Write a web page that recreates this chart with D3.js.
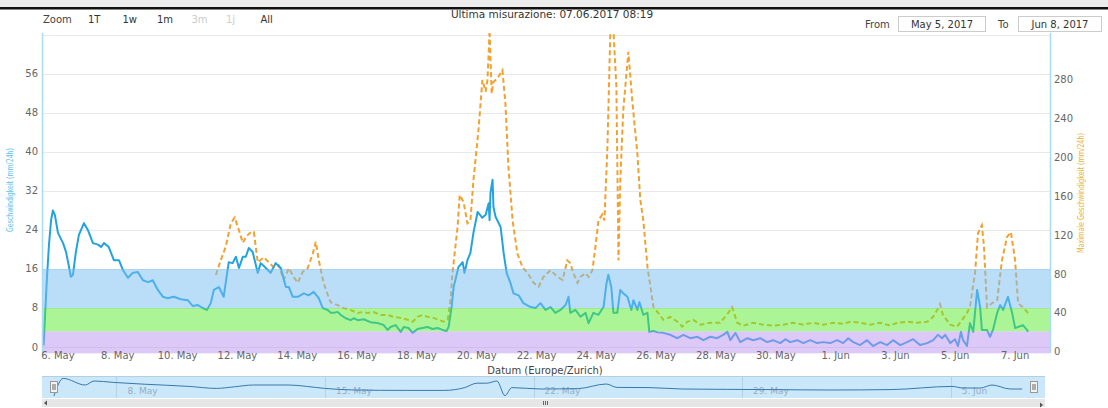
<!DOCTYPE html>
<html>
<head>
<meta charset="utf-8">
<script src="https://cdn.jsdelivr.net/npm/d3@7"></script>
<style>
body { margin: 0; background: #fff; }
svg text { font-family: "DejaVu Sans", Verdana, sans-serif; }
</style>
</head>
<body>
<div id="chart"></div>
<script>
// --- data (days counted from 6 May 2017 00:00) ---
var speedDay = [
 -0.48,-0.37,-0.30,-0.23,-0.17,-0.10,0.00,0.17,0.27,0.37,
 0.43,0.50,0.60,0.70,0.87,1.00,1.17,1.34,1.44,1.54,
 1.70,1.87,2.04,2.17,2.34,2.50,2.67,2.84,3.01,3.17,
 3.34,3.51,3.67,3.87,4.11,4.34,4.51,4.68,4.84,4.98,
 5.11,5.21,5.38,5.54,5.71,5.84,5.95,6.05,6.18,6.28,
 6.38,6.51,6.68,6.78,6.95,7.11,7.28,7.45,7.62,7.72,
 7.85,8.02,8.22,8.38,8.55,8.72,8.85,9.02,9.12,9.22,
 9.35,9.45,9.62,9.79,9.89,10.02,10.22,10.45,10.69,10.89,
 11.02,11.12,11.29,11.46,11.56,11.72,11.86,12.02,12.19,12.36,
 12.52,12.69,12.86,12.99,13.06,13.16,13.23,13.39,13.53,13.59,
 13.69,13.79,13.89,14.03,14.19,14.30,14.40,14.43,14.46,14.53,
 14.56,14.63,14.80,14.90,15.00,15.13,15.23,15.40,15.56,15.80,
 15.97,16.13,16.30,16.47,16.63,16.80,16.97,17.07,17.13,17.30,
 17.47,17.64,17.74,17.90,18.07,18.24,18.34,18.40,18.50,18.57,
 18.70,18.80,18.90,19.04,19.17,19.24,19.37,19.44,19.57,19.71,
 19.77,19.91,20.04,20.24,20.47,20.71,20.91,21.14,21.38,21.58,
 21.81,22.04,22.24,22.38,22.48,22.65,22.81,23.05,23.25,23.48,
 23.71,23.91,24.15,24.32,24.48,24.72,24.92,25.15,25.38,25.58,
 25.82,26.05,26.25,26.42,26.59,26.82,27.05,27.25,27.49,27.72,
 27.92,28.16,28.39,28.59,28.82,29.06,29.26,29.42,29.56,29.66,
 29.83,29.99,30.09,30.19,30.26,30.39,30.49,30.60,30.73,30.83,
 30.89,31.06,31.16,31.26,31.40,31.50,31.60,31.76,31.90,32.00,
 32.10,32.26,32.40,32.43];
var speedValue = [
 0.3,14,21,26,28,27,23.4,21.3,19.5,16.4,
 14.4,14.8,19.5,23,25.4,24,21.3,21,20.5,21.3,
 20.5,17.8,17.8,15.8,14.2,15.2,15.4,13.7,13.3,13.7,
 11.7,10.3,10,10.3,9.8,9.6,8.4,8.6,8,7.6,
 9,11.7,12.3,10.3,17.4,17.2,18.5,16.2,18.5,18.5,
 20.3,19.5,15.2,17.2,16.2,15.2,17.2,16.2,12.3,12.3,
 10.3,10.3,11,10.6,11.3,10,8,7.6,7,7,
 7.2,6.6,5.9,5.5,5.9,5.5,5.7,5.1,4.9,4.5,
 3.5,4.1,4.5,3.1,4.1,3.9,2.9,3.7,3.9,4.1,
 3.7,3.9,3.5,3.3,4.1,8.2,12.3,16.4,17.4,15.2,
 17.8,19.3,23.4,27.7,26.5,27.1,29.5,26,31.6,34.3,
 28.7,26.7,24.6,19.3,15.2,13.1,11,10.6,9,8.2,
 8,9,7.6,8.2,7,7.6,8.6,10.3,7,7.6,
 6.2,7,4.9,7,6.6,8.2,13.1,14.8,12.3,7,
 7,11.7,11,10.3,7.6,9.6,7.6,9.2,6.6,7,
 3.1,3.3,3.0,2.9,2.5,1.8,2.5,1.8,2.1,1.4,
 2.1,1.8,2.5,3.1,1.4,2.9,1.0,1.8,1.4,1.8,
 1.0,1.4,0.8,1.6,1.0,1.4,0.8,1.4,0.8,1.0,
 0.8,1.4,0.8,1.8,1.0,0.4,1.4,0.2,1.0,0.4,
 1.4,0.4,1.0,1.6,0.4,0.8,1.4,2.5,1.8,2.5,
 0.8,1.6,0.2,3.1,1.4,0.2,4.9,3.1,11.7,8.2,
 3.5,3.5,2.1,3.5,7.0,8.6,7.6,10.3,7.0,3.9,
 4.1,4.5,3.5,3.1];

var maxDay = [
 5.28,5.44,5.61,5.78,5.91,6.05,6.18,6.28,6.45,6.55,
 6.68,6.88,7.05,7.21,7.38,7.55,7.72,7.88,8.02,8.18,
 8.35,8.52,8.62,8.72,8.88,9.05,9.12,9.35,9.55,9.79,
 10.02,10.19,10.35,10.55,10.79,11.02,11.22,11.46,11.69,11.86,
 12.02,12.19,12.36,12.56,12.73,12.89,13.03,13.13,13.19,13.36,
 13.43,13.56,13.69,13.79,13.89,14.06,14.19,14.30,14.36,14.40,
 14.43,14.50,14.56,14.70,14.86,14.96,15.06,15.20,15.36,15.53,
 15.70,15.90,16.07,16.23,16.47,16.70,16.87,17.03,17.13,17.23,
 17.37,17.47,17.64,17.74,17.87,17.97,18.07,18.20,18.27,18.37,
 18.47,18.57,18.67,18.74,18.80,18.90,19.07,19.20,19.37,19.47,
 19.57,19.71,19.91,20.07,20.24,20.47,20.71,20.87,21.04,21.24,
 21.48,21.81,22.14,22.41,22.54,22.71,22.91,23.25,23.58,23.91,
 24.25,24.58,24.92,25.25,25.58,25.92,26.25,26.49,26.82,27.15,
 27.49,27.82,28.06,28.39,28.72,29.06,29.26,29.43,29.49,29.59,
 29.83,30.06,30.23,30.39,30.49,30.66,30.76,30.89,30.96,31.06,
 31.23,31.40,31.56,31.73,31.86,32.00,32.10,32.26,32.43];
var maxValue = [
 79,94,108,132,138,125,112,118,123,123,
 92,97,92,87,89,74,86,77,71,82,
 86,101,113,94,71,56,51,48,45,43,
 40,41,40,41,38,38,36,35,33,31,
 36,38,36,35,33,31,33,55,81,128,
 161,154,132,135,176,228,279,267,279,307,
 330,265,277,281,289,255,190,135,101,87,
 81,71,67,77,84,77,74,94,91,81,
 71,77,81,77,84,108,135,141,135,210,
 330,330,272,94,176,248,308,258,204,156,
 135,87,46,40,33,36,31,26,31,33,
 28,30,30,40,46,30,27,30,28,27,
 28,30,28,30,28,30,29,31,30,28,
 30,27,30,31,30,31,36,45,49,38,
 28,26,33,40,46,81,122,130,108,46,
 50,53,94,118,123,94,50,46,40];

// navigator series (relative level 0-100)
var navDay = [-0.1,0.21,0.95,1.25,1.89,2.93,4.44,5.35,5.96,6.6,7.8,8.38,8.99,10.0,11.71,13.0,13.69,14.1,14.43,14.77,15.04,15.27,16.25,17.5,18.44,18.8,19.88,21.0,24.0,25.94,28.0,30.04,30.41,31.0,31.39,32.0,32.4];
var navValue = [5,93,60,80,73,64,53,43,51,60,60,53,43,35,33,33,47,69,69,80,7,47,40,42,65,48,47,40,37,35,37,53,45,45,60,40,40];

var leftTicks = [0, 8, 16, 24, 32, 40, 48, 56, 64];
var rightTicks = [0, 40, 80, 120, 160, 200, 240, 280];
var bandLimits = [-1.3, 3.2, 8, 16];            // purple, green, blue on left axis
var bandColors = ["rgb(188,148,242)", "rgb(90,235,45)", "rgb(120,190,242)"];
var rangeButtons = ["1T", "1w", "1m", "3m", "1j", "All"];
var rangeDisabled = [false, false, false, true, true, false];

var W = 1108, H = 408;
var plot = {left: 43, right: 1050, top: 33, bottom: 353};
var day0 = new Date(2017, 4, 6);
function toDate(d) { return new Date(day0.getTime() + d * 86400000); }

var svg = d3.select("#chart").append("svg").attr("width", W).attr("height", H);

// screenshot frame at top
svg.append("rect").attr("x", 0).attr("y", 0).attr("width", W).attr("height", 7).attr("fill", "#ececec");
svg.append("rect").attr("x", 0).attr("y", 7).attr("width", W).attr("height", 2.5).attr("fill", "#111");

var x = d3.scaleTime()
	.domain([new Date(2017, 4, 5, 12), new Date(2017, 5, 8, 4)])
	.range([plot.left, plot.right]);
var yL = d3.scaleLinear().domain([-1.23, 64.4]).range([plot.bottom, plot.top]);
var yR = d3.scaleLinear().domain([-1.03, 327.2]).range([plot.bottom, plot.top]);

svg.append("clipPath").attr("id", "clip").append("rect")
	.attr("x", plot.left).attr("y", plot.top)
	.attr("width", plot.right - plot.left).attr("height", plot.bottom - plot.top);

// grid
svg.append("g").selectAll("line").data(leftTicks).enter().append("line")
	.attr("x1", plot.left).attr("x2", plot.right)
	.attr("y1", function(d) { return Math.round(yL(d)) + 0.5; })
	.attr("y2", function(d) { return Math.round(yL(d)) + 0.5; })
	.attr("stroke", "#e9e9e9").attr("stroke-width", 1);

var series = svg.append("g").attr("clip-path", "url(#clip)");

var maxPts = maxDay.map(function(d, i) { return [toDate(d), maxValue[i]]; });
series.append("path").datum(maxPts)
	.attr("fill", "none").attr("stroke", "#f2a12e").attr("stroke-width", 2)
	.attr("stroke-dasharray", "5,3")
	.attr("d", d3.line().x(function(d) { return x(d[0]); }).y(function(d) { return yR(d[1]); }));

var speedPts = speedDay.map(function(d, i) { return [toDate(d), speedValue[i]]; });
series.append("path").datum(speedPts)
	.attr("fill", "none").attr("stroke", "#22a3e0").attr("stroke-width", 2)
	.attr("stroke-linejoin", "round")
	.attr("d", d3.line().x(function(d) { return x(d[0]); }).y(function(d) { return yL(d[1]); }));

// plot bands lie over the series
for (var b = 0; b < 3; b++) {
	svg.append("rect")
		.attr("x", plot.left).attr("width", plot.right - plot.left)
		.attr("y", yL(bandLimits[b + 1]))
		.attr("height", yL(bandLimits[b]) - yL(bandLimits[b + 1]))
		.attr("fill", bandColors[b]).attr("fill-opacity", 0.5);
}

// axis lines
svg.append("line").attr("x1", plot.left - 0.5).attr("x2", plot.left - 0.5)
	.attr("y1", plot.top).attr("y2", plot.bottom).attr("stroke", "#a9dbf3").attr("stroke-width", 1.5);
svg.append("line").attr("x1", plot.right + 0.5).attr("x2", plot.right + 0.5)
	.attr("y1", plot.top).attr("y2", plot.bottom).attr("stroke", "#a9dbf3").attr("stroke-width", 1.5);

// left axis labels
svg.append("g").selectAll("text").data(leftTicks.slice(0, 8)).enter().append("text")
	.attr("x", 38).attr("y", function(d) { return yL(d); }).attr("dy", "0.35em")
	.attr("text-anchor", "end").attr("font-size", 10).attr("fill", "#666")
	.text(function(d) { return d; });
// right axis labels
svg.append("g").selectAll("text").data(rightTicks).enter().append("text")
	.attr("x", 1054).attr("y", function(d) { return yR(d); }).attr("dy", "0.35em")
	.attr("text-anchor", "start").attr("font-size", 10).attr("fill", "#666")
	.text(function(d) { return d; });

// x axis labels
var xTicks = d3.timeDay.range(new Date(2017, 4, 6), new Date(2017, 5, 8), 2);
var fmt = d3.timeFormat("%-d. %b");
svg.append("g").selectAll("text").data(xTicks).enter().append("text")
	.attr("x", function(d) { return x(d); }).attr("y", 358.5)
	.attr("text-anchor", "middle").attr("font-size", 10).attr("fill", "#666")
	.text(function(d) { return fmt(d); });

svg.append("text").attr("x", 545).attr("y", 373.5).attr("text-anchor", "middle")
	.attr("font-size", 10).attr("fill", "#444").text("Datum (Europe/Zurich)");

// axis titles
svg.append("text").attr("transform", "translate(13,190) rotate(-90)")
	.attr("text-anchor", "middle").attr("font-size", 9.5).attr("fill", "#5cc2ee")
	.attr("textLength", 84).attr("lengthAdjust", "spacingAndGlyphs")
	.text("Geschwindigkeit (mm/24h)");
svg.append("text").attr("transform", "translate(1084,193) rotate(-90)")
	.attr("text-anchor", "middle").attr("font-size", 9.5).attr("fill", "#e8b232")
	.attr("textLength", 120).attr("lengthAdjust", "spacingAndGlyphs")
	.text("Maximale Geschwindigkeit (mm/24h)");

// title
svg.append("text").attr("x", 552).attr("y", 18).attr("text-anchor", "middle")
	.attr("font-size", 10.5).attr("fill", "#333").text("Ultima misurazione: 07.06.2017 08:19");

// range selector
svg.append("text").attr("x", 43).attr("y", 22.5).attr("font-size", 10).attr("fill", "#444").text("Zoom");
svg.append("g").selectAll("text").data(rangeButtons).enter().append("text")
	.attr("x", function(d, i) { return 88 + i * 34.5; }).attr("y", 22.5)
	.attr("font-size", 10).attr("fill", function(d, i) { return rangeDisabled[i] ? "#ccc" : "#333"; })
	.text(function(d) { return d; });

// date inputs
svg.append("text").attr("x", 865).attr("y", 27.5).attr("font-size", 10).attr("fill", "#444").text("From");
svg.append("rect").attr("x", 898.5).attr("y", 16.5).attr("width", 87).attr("height", 15)
	.attr("fill", "#fff").attr("stroke", "#ccc");
svg.append("text").attr("x", 942).attr("y", 27.5).attr("text-anchor", "middle").attr("font-size", 10)
	.attr("fill", "#333").text("May 5, 2017");
svg.append("text").attr("x", 998).attr("y", 27.5).attr("font-size", 10).attr("fill", "#444").text("To");
svg.append("rect").attr("x", 1018.5).attr("y", 16.5).attr("width", 83).attr("height", 15)
	.attr("fill", "#fff").attr("stroke", "#ccc");
svg.append("text").attr("x", 1060).attr("y", 27.5).attr("text-anchor", "middle").attr("font-size", 10)
	.attr("fill", "#333").text("Jun 8, 2017");

// navigator
var nav = {left: 42, right: 1045, top: 376, bottom: 398};
var xN = d3.scaleTime().domain(x.domain()).range([nav.left, nav.right]);
var yN = d3.scaleLinear().domain([0, 100]).range([nav.bottom - 1, nav.top + 1]);
svg.append("rect").attr("x", nav.left).attr("y", nav.top)
	.attr("width", nav.right - nav.left).attr("height", nav.bottom - nav.top).attr("fill", "#cbe7fa");
svg.append("line").attr("x1", nav.left).attr("x2", nav.right).attr("y1", nav.top + 0.5).attr("y2", nav.top + 0.5)
	.attr("stroke", "#b6cfe0");
var navTicks = d3.timeDay.range(new Date(2017, 4, 8), new Date(2017, 5, 8), 7);
var navFmt = d3.timeFormat("%-d. %b");
svg.append("g").selectAll("line").data(navTicks).enter().append("line")
	.attr("x1", function(d) { return Math.round(xN(d)) + 0.5; })
	.attr("x2", function(d) { return Math.round(xN(d)) + 0.5; })
	.attr("y1", nav.top).attr("y2", nav.bottom).attr("stroke", "#b3d2e8");
svg.append("g").selectAll("text").data(navTicks).enter().append("text")
	.attr("x", function(d) { return xN(d) + 11; }).attr("y", 394)
	.attr("font-size", 9).attr("fill", "#95aec4")
	.text(function(d) { return navFmt(d); });
var navPts = navDay.map(function(d, i) { return [toDate(d), navValue[i]]; });
svg.append("path").datum(navPts)
	.attr("fill", "none").attr("stroke", "#3679ad").attr("stroke-width", 1)
	.attr("d", d3.line().curve(d3.curveMonotoneX)
		.x(function(d) { return xN(d[0]); }).y(function(d) { return yN(d[1]); }));

// handles
[54, 1034].forEach(function(hx) {
	svg.append("rect").attr("x", hx - 3.5).attr("y", 381.5).attr("width", 7).attr("height", 11)
		.attr("fill", "#f2f2f2").attr("stroke", "#999");
	svg.append("line").attr("x1", hx - 1).attr("x2", hx - 1).attr("y1", 384).attr("y2", 390).attr("stroke", "#666");
	svg.append("line").attr("x1", hx + 1).attr("x2", hx + 1).attr("y1", 384).attr("y2", 390).attr("stroke", "#666");
});

// scrollbar
svg.append("rect").attr("x", nav.left).attr("y", 399).attr("width", nav.right - nav.left).attr("height", 8)
	.attr("fill", "#e6e6e6");
svg.append("path").attr("d", "M44,403 L47,400.5 L47,405.5 Z").attr("fill", "#555");
svg.append("path").attr("d", "M1043,405 L1040,402.5 L1040,407.5 Z").attr("fill", "#555");
[543, 545, 547].forEach(function(gx) {
	svg.append("line").attr("x1", gx + 0.5).attr("x2", gx + 0.5).attr("y1", 401).attr("y2", 405).attr("stroke", "#666");
});
</script>
</body>
</html>
